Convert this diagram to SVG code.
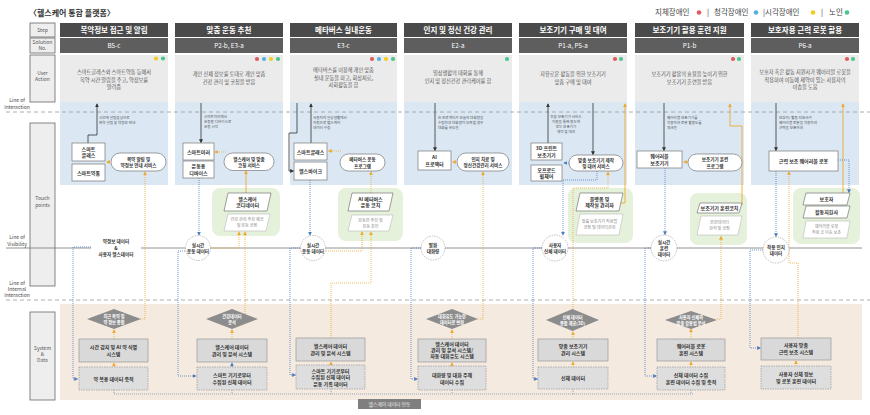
<svg xmlns="http://www.w3.org/2000/svg" width="870" height="415" viewBox="0 0 870 415">
<defs>
<style>
text{font-family:"Noto Sans CJK KR","Noto Sans",sans-serif;}
.hd{fill:#4a4a4a}
.sn{fill:#5e5e5e}
.ht{fill:#fff;font-size:7.5px;font-weight:bold;text-anchor:middle}
.st{fill:#fff;font-size:6.3px;text-anchor:middle}
.uab{fill:#ebebeb}
.tpb{fill:#dbe8f4}
.uat{fill:#555;font-size:5.2px;text-anchor:middle}
.note{fill:#555;font-size:3.6px}
.lb{fill:#eeeeee;stroke:#666;stroke-width:0.8}
.lbt{fill:#555;font-size:5px;text-anchor:middle}
.ll{fill:#444;font-size:5px;text-anchor:middle}
.tb{fill:#fff;stroke:#777;stroke-width:0.7}
.tbt{fill:#333;font-size:5px;text-anchor:middle;font-weight:bold}
.svt{fill:#333;font-size:4.6px;text-anchor:middle;font-weight:bold}
.sd{fill:#fff;stroke:#777;stroke-width:0.7}
.gr{fill:#e5f1da}
.pg{fill:#fff;stroke:#777;stroke-width:0.7}
.pgl{fill:#fff;stroke:#bbb;stroke-width:0.6}
.pgt{fill:#333;font-size:5px;font-weight:bold;text-anchor:middle}
.pglt{fill:#888;font-size:4.1px;text-anchor:middle}
.ci{fill:#fff;stroke:#999;stroke-width:0.6;stroke-dasharray:1.5 1}
.cit{fill:#333;font-size:4.6px;font-weight:bold;text-anchor:middle}
.dm{fill:#8c8c8c}
.dmt{fill:#fff;font-size:4.2px;font-weight:bold;text-anchor:middle}
.sb{fill:#d9d9d9;stroke:#999;stroke-width:0.7}
.sbd{fill:#dedede;stroke:#999;stroke-width:0.7;stroke-dasharray:1.5 1}
.sbt{fill:#333;font-size:5px;font-weight:bold;text-anchor:middle}
.k{fill:none;stroke:#333;stroke-width:0.8}
.os{fill:none;stroke:#f0a830;stroke-width:0.9}
.od{fill:none;stroke:#f0a830;stroke-width:0.8;stroke-dasharray:1 1}
.bd{fill:none;stroke:#4d7cc0;stroke-width:0.8;stroke-dasharray:1 1}
.gd{fill:none;stroke:#6a86a8;stroke-width:0.7;stroke-dasharray:1 1}
.dot-r{fill:#e05a5a}.dot-b{fill:#4fb3e0}.dot-y{fill:#f2cc1f}.dot-g{fill:#4cc48e}
</style>
<marker id="mk" viewBox="0 0 6 6" refX="5" refY="3" markerWidth="4" markerHeight="4" orient="auto" markerUnits="userSpaceOnUse"><path d="M0,0 L6,3 L0,6 z" fill="#333"/></marker>
<marker id="mo" viewBox="0 0 6 6" refX="5" refY="3" markerWidth="4" markerHeight="4" orient="auto" markerUnits="userSpaceOnUse"><path d="M0,0 L6,3 L0,6 z" fill="#f0a830"/></marker>
<marker id="mb" viewBox="0 0 6 6" refX="5" refY="3" markerWidth="4" markerHeight="4" orient="auto" markerUnits="userSpaceOnUse"><path d="M0,0 L6,3 L0,6 z" fill="#4d7cc0"/></marker>
</defs>
<rect width="870" height="415" fill="#fff"/>

<!-- title & legend -->
<text x="29" y="16" font-size="8" font-weight="bold" fill="#333">〈헬스케어 통합 플랫폼〉</text>
<g id="legend" font-size="7.5" fill="#444">
<text x="655" y="15">지체장애인</text><circle cx="699" cy="12.5" r="2.3" class="dot-r"/><text x="707" y="15">|</text>
<text x="714" y="15">청각장애인</text><circle cx="756" cy="12.5" r="2.3" class="dot-b"/><text x="763" y="15">|시각장애인</text>
<circle cx="813" cy="12.5" r="2.3" class="dot-y"/><text x="821" y="15">|</text><text x="829" y="15">노인</text><circle cx="847" cy="12.5" r="2.3" class="dot-g"/>
</g>

<!-- left label column -->
<g id="labels">
<rect class="lb" x="30" y="23" width="25" height="14"/><text class="lbt" x="42.5" y="32">Step</text>
<rect class="lb" x="30" y="38" width="25" height="15"/><text class="lbt" x="42.5" y="44">Solution</text><text class="lbt" x="42.5" y="50">No.</text>
<rect class="lb" x="30" y="55" width="25" height="47"/><text class="lbt" x="42.5" y="75">User</text><text class="lbt" x="42.5" y="81">Action</text>
<rect class="lb" x="30" y="123" width="25" height="163"/><text class="lbt" x="42.5" y="200">Touch</text><text class="lbt" x="42.5" y="206.5">points</text>
<rect class="lb" x="30" y="312" width="25" height="88"/><text class="lbt" x="42.5" y="350">System</text><text class="lbt" x="42.5" y="356">&amp;</text><text class="lbt" x="42.5" y="362">Data</text>
<text class="ll" x="17" y="102">Line of</text><text class="ll" x="17" y="108.5">Interaction</text>
<text class="ll" x="17" y="239">Line of</text><text class="ll" x="17" y="245.5">Visibility</text>
<text class="ll" x="17" y="285">Line of</text><text class="ll" x="17" y="291">Internal</text><text class="ll" x="17" y="297">Interaction</text>
</g>

<!-- column backgrounds -->
<g id="backgrounds">
<rect class="uab" x="60" y="55" width="108" height="47"/><rect class="tpb" x="60" y="102" width="108" height="83"/>
<rect class="uab" x="175" y="55" width="108" height="47"/><rect class="tpb" x="175" y="102" width="108" height="83"/>
<rect class="uab" x="290" y="55" width="107" height="47"/><rect class="tpb" x="290" y="102" width="107" height="83"/>
<rect class="uab" x="404" y="55" width="108" height="47"/><rect class="tpb" x="404" y="102" width="108" height="83"/>
<rect class="uab" x="519" y="55" width="108" height="47"/><rect class="tpb" x="519" y="102" width="108" height="83"/>
<rect class="uab" x="635" y="55" width="109" height="47"/><rect class="tpb" x="635" y="102" width="109" height="83"/>
<rect class="uab" x="751" y="55" width="108" height="47"/><rect class="tpb" x="751" y="102" width="108" height="83"/>
<rect x="60" y="304" width="802" height="96" fill="#f4eae0"/>
</g>

<!-- lines -->
<g id="swimlines">
<line x1="6" y1="112" x2="870" y2="112" stroke="#999" stroke-width="0.8" stroke-dasharray="4 3"/>
<line x1="6" y1="248" x2="862" y2="248" stroke="#777" stroke-width="0.8"/>
<line x1="6" y1="300" x2="870" y2="300" stroke="#999" stroke-width="0.8" stroke-dasharray="4 3"/>
</g>

<!-- headers -->
<g id="headers">
<rect class="hd" x="60" y="23" width="108" height="14"/><rect class="sn" x="60" y="38" width="108" height="15"/>
<text class="ht" x="114" y="33">복약정보 접근 및 알림</text><text class="st" x="114" y="48">B5-c</text>
<rect class="hd" x="175" y="23" width="108" height="14"/><rect class="sn" x="175" y="38" width="108" height="15"/>
<text class="ht" x="229" y="33">맞춤 운동 추천</text><text class="st" x="229" y="48">P2-b, E3-a</text>
<rect class="hd" x="290" y="23" width="107" height="14"/><rect class="sn" x="290" y="38" width="107" height="15"/>
<text class="ht" x="343.5" y="33">메타버스 실내운동</text><text class="st" x="343.5" y="48">E3-c</text>
<rect class="hd" x="404" y="23" width="108" height="14"/><rect class="sn" x="404" y="38" width="108" height="15"/>
<text class="ht" x="458" y="33">인지 및 정신 건강 관리</text><text class="st" x="458" y="48">E2-a</text>
<rect class="hd" x="519" y="23" width="108" height="14"/><rect class="sn" x="519" y="38" width="108" height="15"/>
<text class="ht" x="573" y="33">보조기기 구매 및 대여</text><text class="st" x="573" y="48">P1-a, P5-a</text>
<rect class="hd" x="635" y="23" width="109" height="14"/><rect class="sn" x="635" y="38" width="109" height="15"/>
<text class="ht" x="689.5" y="33">보조기기 활용 훈련 지원</text><text class="st" x="689.5" y="48">P1-b</text>
<rect class="hd" x="751" y="23" width="108" height="14"/><rect class="sn" x="751" y="38" width="108" height="15"/>
<text class="ht" x="805" y="33">보호자용 근력 로봇 활용</text><text class="st" x="805" y="48">P6-a</text>
</g>

<!-- user actions -->
<g id="user-actions">
<circle class="dot-y" cx="156" cy="58.5" r="2.1"/><circle class="dot-g" cx="163" cy="58.5" r="2.1"/>
<text class="uat" x="114" y="74">스마트글래스와 스마트약통 등에서<tspan x="114" y="81.5">복약 시간 알림을 주고, 약정보를</tspan><tspan x="114" y="89">알려줌</tspan></text>
<circle class="dot-r" cx="257" cy="59" r="2.1"/><circle class="dot-b" cx="264" cy="59" r="2.1"/><circle class="dot-y" cx="271" cy="59" r="2.1"/><circle class="dot-g" cx="278" cy="59" r="2.1"/>
<text class="uat" x="229" y="76">개인 신체 정보를 토대로 개인 맞춤<tspan x="229" y="83.5">건강 관리 및 코칭을 받음</tspan></text>
<circle class="dot-r" cx="372" cy="59" r="2.1"/><circle class="dot-b" cx="379" cy="59" r="2.1"/><circle class="dot-y" cx="386" cy="59" r="2.1"/><circle class="dot-g" cx="393" cy="59" r="2.1"/>
<text class="uat" x="343.5" y="72">메타버스를 이용해 개인 맞춤<tspan x="343.5" y="79.5">실내 운동을 하고, 회상치료,</tspan><tspan x="343.5" y="87">사회활동을 함</tspan></text>
<circle class="dot-g" cx="507" cy="59" r="2.1"/>
<text class="uat" x="458" y="75">일상생활의 대화를 통해<tspan x="458" y="82.5">인지 및 정신건강 관리케어를 함</tspan></text>
<circle class="dot-r" cx="615" cy="59" r="2.1"/><circle class="dot-g" cx="621" cy="59" r="2.1"/>
<text class="uat" x="573" y="76">자유로운 활동을 위한 보조기기<tspan x="573" y="83.5">맞춤 구매 및 대여</tspan></text>
<circle class="dot-r" cx="733" cy="59" r="2.1"/><circle class="dot-g" cx="739" cy="59" r="2.1"/>
<text class="uat" x="689.5" y="76">보조기기 활용의 효율을 높이기 위한<tspan x="689.5" y="83.5">보조기기 훈련을 받음</tspan></text>
<circle class="dot-r" cx="847" cy="59" r="2.1"/><circle class="dot-g" cx="853" cy="59" r="2.1"/>
<text class="uat" x="805" y="74">보호자 혹은 활동 지원사가 웨어러블 로봇을<tspan x="805" y="81.5">착용하여 이동에 제약이 있는 사용자의</tspan><tspan x="805" y="89">이송을 도움</tspan></text>
</g>

<!-- notes -->
<g id="notes">
<text class="note" x="99" y="118.5">시간에 알림음성으로<tspan x="99" y="123.5">복약 알림 및 약정보 안내</tspan></text>
<text class="note" x="204" y="118">스마트미러에서<tspan x="204" y="123">운동용 디바이스로</tspan><tspan x="204" y="128">운동 시작</tspan></text>
<text class="note" x="313" y="118.5">사용자의 일상생활에서<tspan x="313" y="123.5">자동으로 헬스케어</tspan><tspan x="313" y="128.5">데이터 수집</tspan></text>
<text class="note" x="438" y="118.5">AI 프로젝터가 오늘의 대화량을<tspan x="438" y="123.5">수집하여 대화량이 부족할 경우</tspan><tspan x="438" y="128.5">대화를 유도함</tspan></text>
<text class="note" x="566" y="117.5" text-anchor="middle">맞춤 보조기기 서비스<tspan x="566" y="122.5">이용을 통해 용도에</tspan><tspan x="566" y="127.5">맞는 보조기기</tspan><tspan x="566" y="132.5">제작 및 대여</tspan></text>
<text class="note" x="667" y="118.5">웨어러블 보조기기를<tspan x="667" y="123.5">착용하여 로봇 활용도를</tspan><tspan x="667" y="128.5">체크함</tspan></text>
<text class="note" x="779" y="118.5">보호자/ 활동 지원사가<tspan x="779" y="123.5">웨어러블 로봇을 착용하여</tspan><tspan x="779" y="128.5">근력을 보조하여</tspan></text>
</g>

<!-- green zones -->
<g id="zones">
<rect class="gr" x="212" y="188" width="68" height="48" rx="8"/>
<rect class="gr" x="338" y="188" width="65" height="53" rx="8"/>
<rect class="gr" x="568" y="188" width="65" height="55" rx="8"/>
<rect class="gr" x="690" y="193" width="57" height="52" rx="8"/>
<rect class="gr" x="793" y="188" width="67" height="56" rx="8"/>
</g>

<!-- connectors -->
<g id="connectors">
<!-- col1 -->
<path class="k" d="M88 143 V135 H97 V104" marker-end="url(#mk)"/>
<path class="od" d="M112 162 H106.5" marker-end="url(#mo)"/>
<path class="od" d="M140 319 H145 V172" marker-end="url(#mo)"/>
<path class="bd" d="M93 247 H73 V379 H77.5" marker-end="url(#mb)"/>
<path class="od" d="M114 339 V330" marker-end="url(#mo)"/>
<path class="od" d="M114 367 V363" marker-end="url(#mo)"/>
<!-- col2 -->
<path class="k" d="M201 103 V142.5" marker-end="url(#mk)"/>
<path class="od" d="M226 152 H215" marker-end="url(#mo)"/>
<path class="os" d="M246 193 V171" marker-end="url(#mo)"/>
<path class="bd" d="M199 178 V235" marker-end="url(#mb)"/>
<path class="od" d="M211 248 H239 V232" marker-end="url(#mo)"/>
<path class="od" d="M245 316 V232" marker-end="url(#mo)"/>
<path class="bd" d="M187 251 H178 V376 H196" marker-end="url(#mb)"/>
<path class="od" d="M232 339 V330" marker-end="url(#mo)"/>
<path class="bd" d="M232 367 V363" marker-end="url(#mb)"/>
<!-- col3 -->
<path class="k" d="M297 103 V133 H289 V171 H293.5" marker-end="url(#mk)"/>
<path class="k" d="M311 143 V104" marker-end="url(#mk)"/>
<path class="od" d="M341 151 H328.5" marker-end="url(#mo)"/>
<path class="od" d="M371 193 V172" marker-end="url(#mo)"/>
<path class="bd" d="M310 180 V235" marker-end="url(#mb)"/>
<path class="od" d="M326 251 H362 V232" marker-end="url(#mo)"/>
<path class="od" d="M331 338 V283 H371 V232" marker-end="url(#mo)"/>
<path class="bd" d="M300 248 H290 V375 H295.5" marker-end="url(#mb)"/>
<path class="od" d="M331 366 V362" marker-end="url(#mo)"/>
<!-- col4 -->
<path class="k" d="M435 103 V150.5" marker-end="url(#mk)"/>
<path class="od" d="M458 162 H452.5" marker-end="url(#mo)"/>
<path class="od" d="M478 319 H483 V172" marker-end="url(#mo)"/>
<path class="bd" d="M421 248 H411 V379 H417.5" marker-end="url(#mb)"/>
<path class="od" d="M452 339 V330" marker-end="url(#mo)"/>
<path class="od" d="M452 366 V363" marker-end="url(#mo)"/>
<!-- col5 -->
<path class="k" d="M548 143 V104" marker-end="url(#mk)"/>
<path class="k" d="M593 103 V154.5" marker-end="url(#mk)"/>
<path class="bd" d="M569 163 H564" marker-end="url(#mb)"/>
<path class="bd" d="M597 171 V180 H563 V235" marker-end="url(#mb)"/>
<path class="os" d="M621 203 H625 V104" marker-end="url(#mo)"/>
<path class="od" d="M573 311 V188 H608 V172" marker-end="url(#mo)"/>
<path class="bd" d="M542 248 H533 V379 H537.5" marker-end="url(#mb)"/>
<path class="od" d="M573 339 V332" marker-end="url(#mo)"/>
<path class="od" d="M573 367 V362" marker-end="url(#mo)"/>
<!-- col6 -->
<path class="k" d="M664 103 V150.5" marker-end="url(#mk)"/>
<path class="od" d="M688 162 H683.5" marker-end="url(#mo)"/>
<path class="os" d="M741 205 H742 V126 H730 V104" marker-end="url(#mo)"/>
<path class="od" d="M717 319 H721 V236.5" marker-end="url(#mo)"/>
<path class="bd" d="M665 168 V234.5" marker-end="url(#mb)"/>
<path class="bd" d="M651 248 H645 V376 H656.5" marker-end="url(#mb)"/>
<path class="od" d="M691 339 V329" marker-end="url(#mo)"/>
<path class="od" d="M691 367 V362" marker-end="url(#mo)"/>
<!-- col7 -->
<path class="k" d="M776 103 V150.5" marker-end="url(#mk)"/>
<path class="os" d="M843 193 V104" marker-end="url(#mo)"/>
<path class="bd" d="M838 160 H849 V192.5" marker-end="url(#mb)"/>
<path class="od" d="M798 338 V263 H789 V172" marker-end="url(#mo)"/>
<path class="bd" d="M776 171 V236.5" marker-end="url(#mb)"/>
<path class="bd" d="M763 250 H750 V348 H760.5" marker-end="url(#mb)"/>
<path class="od" d="M796 366 V361" marker-end="url(#mo)"/>
<!-- data link -->
<path class="gd" d="M114 390 V394 H693 M232 390 V394 M331 389 V394 M452 390 V394 M573 389 V394 M691 390 V394"/>
</g>

<!-- column 1 nodes -->
<g id="c1-smartglass"><rect class="tb" x="72" y="143" width="33" height="18"/><text class="tbt" x="88.5" y="150.5">스마트<tspan x="88.5" y="157">글래스</tspan></text></g>
<g id="c1-pillbox"><rect class="tb" x="72" y="164" width="33" height="17"/><text class="tbt" x="88.5" y="174.5">스마트약통</text></g>
<g id="c1-service"><rect class="sd" x="111" y="153" width="55" height="18" rx="9"/><text class="svt" x="138.5" y="160.5">복약 알림 및<tspan x="138.5" y="167">약정보 안내 서비스</tspan></text></g>
<g id="c1-data"><ellipse cx="116" cy="248" rx="25" ry="11" fill="#fff"/><text class="cit" x="116" y="243">약정보 데이터<tspan x="116" y="249.5">&amp;</tspan><tspan x="116" y="256">사용자 헬스데이터</tspan></text></g>
<g id="c1-diamond"><polygon class="dm" points="87,319 114,309 141,319 114,329"/><text class="dmt" x="114" y="318">최근 복약 및<tspan x="114" y="323.5">약 정보 종합</tspan></text></g>
<g id="c1-system"><rect class="sb" x="79" y="339" width="69" height="23"/><text class="sbt" x="113.5" y="348.5">시간 감지 및 AI 약 식별<tspan x="113.5" y="355.5">시스템</tspan></text></g>
<g id="c1-store"><rect class="sbd" x="79" y="367" width="69" height="23"/><text class="sbt" x="113.5" y="380.5">약 복용 데이터 축적</text></g>

<!-- column 2 nodes -->
<g id="c2-mirror"><rect class="tb" x="183" y="143" width="31" height="17"/><text class="tbt" x="198.5" y="153.5">스마트미러</text></g>
<g id="c2-device"><rect class="tb" x="183" y="161" width="31" height="17"/><text class="tbt" x="198.5" y="168">운동용<tspan x="198.5" y="174.5">디바이스</tspan></text></g>
<g id="c2-service"><rect class="sd" x="224" y="153" width="50" height="17.5" rx="8.7"/><text class="svt" x="249" y="160.5">헬스케어 및 맞춤<tspan x="249" y="167">코칭 서비스</tspan></text></g>
<g id="c2-coordinator"><polygon class="pg" points="228,193 271,193 267,211 224,211"/><text class="pgt" x="247.5" y="200.5">헬스케어<tspan x="247.5" y="207">코디네이터</tspan></text></g>
<g id="c2-coaching"><polygon class="pgl" points="228,214 270,214 266,231 224,231"/><text class="pglt" x="247" y="221">건강 관리 추천 제공<tspan x="247" y="227">및 운동 코칭</tspan></text></g>
<g id="c2-data"><circle class="ci" cx="198" cy="248" r="12.5"/><text class="cit" x="198" y="246.5">실시간<tspan x="198" y="253">운동 데이터</tspan></text></g>
<g id="c2-diamond"><polygon class="dm" points="206,319 232,309 258,319 232,329"/><text class="dmt" x="232" y="318">건강데이터<tspan x="232" y="323.5">분석</tspan></text></g>
<g id="c2-system"><rect class="sb" x="197" y="339" width="70" height="23"/><text class="sbt" x="232" y="348.5">헬스케어 데이터<tspan x="232" y="355.5">관리 및 분석 시스템</tspan></text></g>
<g id="c2-store"><rect class="sbd" x="197" y="367" width="70" height="23"/><text class="sbt" x="232" y="377">스마트 기기로부터<tspan x="232" y="384">수집된 신체 데이터</tspan></text></g>

<!-- column 3 nodes -->
<g id="c3-smartglass"><rect class="tb" x="294" y="143" width="33" height="17"/><text class="tbt" x="310.5" y="153.5">스마트글래스</text></g>
<g id="c3-bike"><rect class="tb" x="294" y="162" width="33" height="18"/><text class="tbt" x="310.5" y="172.5">헬스바이크</text></g>
<g id="c3-program"><rect class="sd" x="340" y="154" width="45" height="17" rx="8.5"/><text class="svt" x="362.5" y="161">메타버스 운동<tspan x="362.5" y="167.5">프로그램</tspan></text></g>
<g id="c3-coach"><polygon class="pg" points="352,193 393,193 389,211 348,211"/><text class="pgt" x="370.5" y="200.5">AI 메타버스<tspan x="370.5" y="207">운동 코치</tspan></text></g>
<g id="c3-advice"><polygon class="pgl" points="352,215 393,215 389,231 348,231"/><text class="pglt" x="370.5" y="222">운동량 추천 및<tspan x="370.5" y="228">운동 조언</tspan></text></g>
<g id="c3-data"><circle class="ci" cx="313" cy="248" r="12.5"/><text class="cit" x="313" y="246.5">실시간<tspan x="313" y="253">운동 데이터</tspan></text></g>
<g id="c3-system"><rect class="sb" x="296" y="338" width="69" height="23"/><text class="sbt" x="330.5" y="347.5">헬스케어 데이터<tspan x="330.5" y="354.5">관리 및 분석 시스템</tspan></text></g>
<g id="c3-store"><rect class="sbd" x="296" y="365" width="69" height="24"/><text class="sbt" x="330.5" y="372.5" font-size="4.7">스마트 기기로부터<tspan x="330.5" y="379">수집된 신체 데이터</tspan><tspan x="330.5" y="385.5">운동 기록 데이터</tspan></text></g>

<!-- column 4 nodes -->
<g id="c4-projector"><rect class="tb" x="418" y="151" width="33" height="19"/><text class="tbt" x="434.5" y="159">AI<tspan x="434.5" y="165.5">프로젝터</tspan></text></g>
<g id="c4-service"><rect class="sd" x="457" y="153" width="52" height="18" rx="9"/><text class="svt" x="483" y="160.5" font-size="4.3">인지 치료 및<tspan x="483" y="167">정신건강관리 서비스</tspan></text></g>
<g id="c4-data"><circle class="ci" cx="433" cy="248" r="12"/><text class="cit" x="433" y="246.5">발화<tspan x="433" y="253">대화량</tspan></text></g>
<g id="c4-diamond"><polygon class="dm" points="426,319 452,309 478,319 452,329"/><text class="dmt" x="452" y="318">대화유도 가능한<tspan x="452" y="323.5">데이터로 변환</tspan></text></g>
<g id="c4-system"><rect class="sb" x="418" y="339" width="68" height="23"/><text class="sbt" x="452" y="345.5" font-size="4.6">헬스케어 데이터<tspan x="452" y="351.5">관리 및 분석 시스템/</tspan><tspan x="452" y="357.5">자동 대화유도 시스템</tspan></text></g>
<g id="c4-store"><rect class="sbd" x="418" y="366" width="68" height="24"/><text class="sbt" x="452" y="376.5">대화량 및 대화 주제<tspan x="452" y="383.5">데이터 수집</tspan></text></g>

<!-- column 5 nodes -->
<g id="c5-3d"><rect class="tb" x="531" y="143" width="31" height="17"/><text class="tbt" x="546.5" y="150">3D 프린트<tspan x="546.5" y="156.5">보조기기</tspan></text></g>
<g id="c5-wheelchair"><rect class="tb" x="531" y="165" width="31" height="16"/><text class="tbt" x="546.5" y="171.5">오프로드<tspan x="546.5" y="178">휠체어</tspan></text></g>
<g id="c5-service"><rect class="sd" x="569" y="155" width="54" height="16" rx="8"/><text class="svt" x="596" y="161.5" font-size="4.3">맞춤 보조기기 제작<tspan x="596" y="168">및 대여 서비스</tspan></text></g>
<g id="c5-manager"><polygon class="pg" points="580,193 623,193 619,211 576,211"/><text class="pgt" x="599.5" y="200.5">플랫폼 및<tspan x="599.5" y="207">제작실 관리자</tspan></text></g>
<g id="c5-coaching"><polygon class="pgl" points="580,214 623,214 619,235 576,235"/><text class="pglt" x="599.5" y="222.5" font-size="3.9">맞춤 보조기기 착용법<tspan x="599.5" y="228.5">코칭 및 데이터관리</tspan></text></g>
<g id="c5-data"><circle class="ci" cx="555" cy="248" r="13"/><text class="cit" x="555" y="246.5">사용자<tspan x="555" y="253">신체 데이터</tspan></text></g>
<g id="c5-diamond"><polygon class="dm" points="546,320 572.5,309 599,320 572.5,331"/><text class="dmt" x="572.5" y="319">신체 데이터<tspan x="572.5" y="324.5">종합 제공(3D)</tspan></text></g>
<g id="c5-system"><rect class="sb" x="538" y="339" width="70" height="22"/><text class="sbt" x="573" y="348">맞춤 보조기기<tspan x="573" y="355">관리 시스템</tspan></text></g>
<g id="c5-store"><rect class="sbd" x="538" y="367" width="70" height="22"/><text class="sbt" x="573" y="380">신체 데이터</text></g>

<!-- column 6 nodes -->
<g id="c6-wearable"><rect class="tb" x="637" y="151" width="45" height="17"/><text class="tbt" x="659.5" y="158">웨어러블<tspan x="659.5" y="164.5">보조기기</tspan></text></g>
<g id="c6-program"><rect class="sd" x="688" y="154" width="54" height="17" rx="8.5"/><text class="svt" x="715" y="161">보조기기 훈련<tspan x="715" y="167.5">프로그램</tspan></text></g>
<g id="c6-coach"><polygon class="pg" points="700,203 742,203 739,213 697,213"/><text class="pgt" x="719.5" y="210" font-size="4.5">보조기기 훈련코치</text></g>
<g id="c6-analysis"><polygon class="pgl" points="701,216 742,216 738,235 697,235"/><text class="pglt" x="719.5" y="224">훈련데이터<tspan x="719.5" y="230">분석 및 코칭</tspan></text></g>
<g id="c6-data"><circle class="ci" cx="664" cy="248" r="13"/><text class="cit" x="664" y="243.5">실시간<tspan x="664" y="249.5">훈련</tspan><tspan x="664" y="255.5">데이터</tspan></text></g>
<g id="c6-diamond"><polygon class="dm" points="665,320 691,311 717,320 691,329"/><text class="dmt" x="691" y="319">사용자 신체와<tspan x="691" y="324.5">맞춤 활용법 분석</tspan></text></g>
<g id="c6-system"><rect class="sb" x="657" y="339" width="68" height="22"/><text class="sbt" x="691" y="348">웨어러블 로봇<tspan x="691" y="355">훈련 시스템</tspan></text></g>
<g id="c6-store"><rect class="sbd" x="657" y="367" width="68" height="23"/><text class="sbt" x="691" y="376.5" font-size="4.6">신체 데이터 수집<tspan x="691" y="383.5">훈련 데이터 수집 및 축적</tspan></text></g>

<!-- column 7 nodes -->
<g id="c7-robot"><rect class="tb" x="769" y="151" width="69" height="20"/><text class="tbt" x="803.5" y="163">근력 보조 웨어러블 로봇</text></g>
<g id="c7-guardian"><polygon class="pg" points="806,193 850,193 847,205 803,205"/><text class="pgt" x="826.5" y="201">보호자</text></g>
<g id="c7-helper"><polygon class="pg" points="806,206 850,206 847,218 803,218"/><text class="pgt" x="826.5" y="214">활동지원사</text></g>
<g id="c7-transfer"><polygon class="pgl" points="806,221 850,221 847,238 803,238"/><text class="pglt" x="826.5" y="228">웨어러블 로봇<tspan x="826.5" y="234">착용 후 이송 보조</tspan></text></g>
<g id="c7-data"><circle class="ci" cx="776" cy="250" r="13"/><text class="cit" x="776" y="248.5">착용 인지<tspan x="776" y="255">데이터</tspan></text></g>
<g id="c7-system"><rect class="sb" x="761" y="338" width="70" height="22"/><text class="sbt" x="796" y="347">사용자 맞춤<tspan x="796" y="354">근력 보조 시스템</tspan></text></g>
<g id="c7-store"><rect class="sbd" x="761" y="366" width="70" height="23"/><text class="sbt" x="796" y="375.5">사용자 신체 정보<tspan x="796" y="382.5">및 로봇 훈련 데이터</tspan></text></g>

<g id="data-link-label"><rect x="358" y="399" width="63" height="10" fill="#7f7f7f"/><text x="389.5" y="406" font-size="4.8" fill="#eee" text-anchor="middle">헬스케어 데이터 연동</text></g>
</svg>
